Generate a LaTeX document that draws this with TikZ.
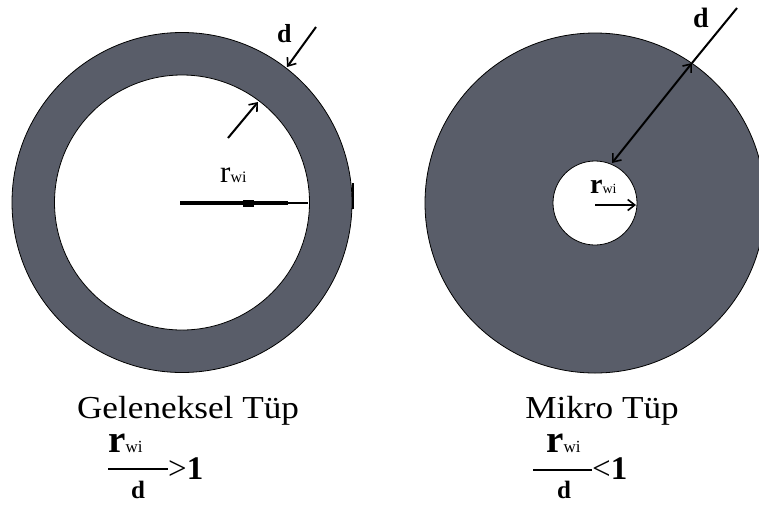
\documentclass[tikz,border=0pt]{standalone}
\usepackage{fontspec}
\setmainfont{Liberation Serif}
\usetikzlibrary{arrows.meta}
\definecolor{tubegray}{RGB}{89,93,105}
\tikzset{
  tube/.style={fill=tubegray,draw=black,line width=0.8pt},
  hole/.style={fill=white,draw=black,line width=0.8pt},
  barb/.tip={Straight Barb[length=7pt,width=11pt,line width=1.6pt]},
  dimarrow/.style={line width=2pt,-barb},
  lbl/.style={inner sep=0pt,anchor=base west},
  caption/.style={inner sep=0pt,anchor=base,xscale=1.1,font=\fontsize{32}{32}\selectfont},
}
\begin{document}
\begin{tikzpicture}[x=1pt,y=-1pt]
\useasboundingbox (0,0) rectangle (759,504);
% ---------- left tube ----------
\coordinate (lc) at (182,202.5);
\fill[tube] (lc) circle[radius=170];
\fill[hole] (lc) circle[radius=127.5];
% r_wi radius bar
\coordinate (lr0) at (180,203);
\coordinate (lr1) at (288,203);
\coordinate (lr2) at (308,203);
\draw[line width=4pt] (lr0) -- (lr1);
\draw[line width=1.6pt] (lr1) -- (lr2);
\fill (243,199.5) rectangle (254,206.5);
\draw[line width=2pt] (353,183) -- (353,209);
\node[lbl] (lrwi) at (220,182) {\fontsize{31}{31}\selectfont r\fontsize{16}{16}\selectfont wi};
% d arrows
\coordinate (ld0) at (316,27);
\coordinate (ld1) at (287,67);
\coordinate (ld2) at (228,138);
\coordinate (ld3) at (258,102);
\draw[dimarrow] (ld0) -- (ld1);
\draw[dimarrow] (ld2) -- (ld3);
\node[lbl] (ld) at (277,42) {\fontsize{26}{26}\selectfont\bfseries d};
% ---------- right tube ----------
\coordinate (rc) at (595,203);
\fill[tube] (rc) circle[radius=170];
\fill[hole] (rc) circle[radius=42];
\coordinate (rr0) at (595,205);
\coordinate (rr1) at (636,205);
\draw[dimarrow] (rr0) -- (rr1);
\node[lbl] (rrwi) at (590,193) {\fontsize{28}{28}\selectfont\bfseries r\fontsize{14}{14}\selectfont\mdseries wi};
\coordinate (rd0) at (737,8);
\coordinate (rd1) at (692,63);
\coordinate (rd2) at (612,163);
\draw[line width=2pt] (rd0) -- (rd1);
\draw[dimarrow,barb-barb] (rd2) -- (rd1);
\node[lbl] (rd) at (693,27) {\fontsize{28}{28}\selectfont\bfseries d};
% ---------- captions ----------
\node[caption] (lcap) at (188,418) {Geleneksel Tüp};
\node[caption] (rcap) at (602,418) {Mikro Tüp};
% left fraction
\node[lbl] (lnum) at (108,452) {\fontsize{39}{39}\selectfont\bfseries r\fontsize{17}{17}\selectfont\mdseries wi};
\coordinate (lb0) at (108,469);
\coordinate (lb1) at (168,469);
\draw[line width=2.2pt] (lb0) -- (lb1);
\node[lbl] (lden) at (131,498) {\fontsize{25}{25}\selectfont\bfseries d};
\node[lbl] (lrel) at (168,479) {\fontsize{33}{33}\selectfont >\bfseries 1};
% right fraction
\node[lbl] (rnum) at (546,452) {\fontsize{39}{39}\selectfont\bfseries r\fontsize{17}{17}\selectfont\mdseries wi};
\coordinate (rb0) at (533,470);
\coordinate (rb1) at (592,470);
\draw[line width=2.2pt] (rb0) -- (rb1);
\node[lbl] (rden) at (557,498) {\fontsize{25}{25}\selectfont\bfseries d};
\node[lbl] (rrel) at (592,479) {\fontsize{33}{33}\selectfont <\bfseries 1};
\end{tikzpicture}
\end{document}
